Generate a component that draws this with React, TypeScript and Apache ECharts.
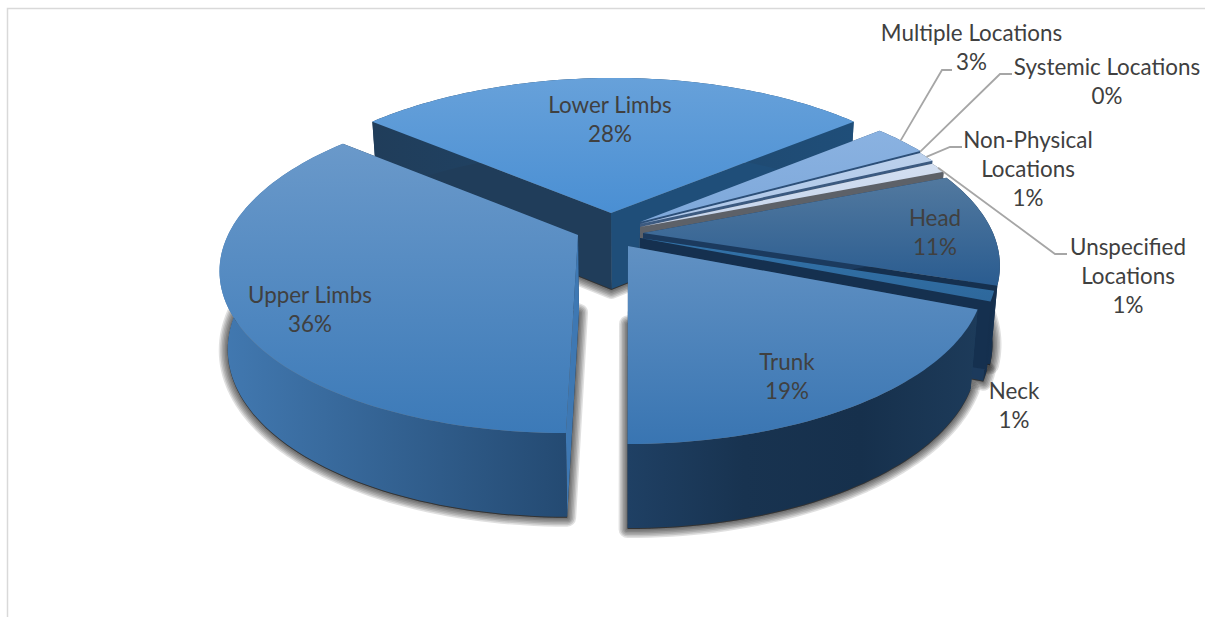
import React, { useEffect, useRef } from "react";
import * as echarts from "echarts";

// Injury locations, clockwise from the start of the first slice.
const categories = [
  "Head",
  "Neck",
  "Trunk",
  "Upper Limbs",
  "Lower Limbs",
  "Multiple Locations",
  "Systemic Locations",
  "Non-Physical\nLocations",
  "Unspecified\nLocations",
];
const percentages = [11, 1, 19, 36, 28, 3, 0, 1, 1];

// Clockwise angle of the first slice, measured from the far side of the disc.
const FIRST_SLICE_ANGLE = 68.4;

// Projection of the tilted disc.
const DISC = { radius: 350, depthRadius: 160.6, perspective: 0.189, vanishX: 630 };
const BOTTOM = { shrink: 0.98, drop: 76, dropGrowth: 0.035, refY: 213 };

// Where each exploded slice's tip lands.
const sliceTips = [
  [643, 233],
  [640, 238],
  [628, 246],
  [578, 235],
  [611, 213],
  [640, 222],
  [640, 222.5],
  [640, 224],
  [640, 227],
];

// Painted far to near.
const paintOrder = [4, 5, 6, 7, 8, 0, 1, 3, 2];

// Top gradient stops, the two radial walls, rim gradient stops.
const sliceStyles = [
  { top: ["#52799f", "#2a5c90"], startWall: "#1b3a5e", endWall: "#15304f", rim: ["#15304f", "#15304f"] },
  { top: ["#3272a8", "#2e689c"], startWall: "#15304f", endWall: "#1c3a5c", rim: ["#15304f", "#142e4c"] },
  { top: ["#6191c3", "#3975b2"], startWall: "#1c3c5e", endWall: "#1c3c5e", rim: ["#1f4064", "#183350", "#16304c", "#1d3b5a"] },
  { top: ["#6a99ca", "#3c7ab8"], startWall: "#3e78b3", endWall: "#1f3d5c", rim: ["#4279b1", "#244a72"] },
  { top: ["#67a1da", "#4a8fd3"], startWall: "#203d5a", endWall: "#1f4e79", rim: ["#203d5a", "#1f4e79"] },
  { top: ["#8ab2e1", "#7ea8da"], startWall: "#2c4f78", endWall: "#1f3b5f", rim: ["#2c4f78", "#2c4f78"] },
  { top: ["#7ea8da", "#7ea8da"], startWall: "#2c4f78", endWall: "#2c4f78", rim: ["#2c4f78", "#2c4f78"] },
  { top: ["#bcd1ec", "#adc6e8"], startWall: "#3c5a80", endWall: "#3c5a80", rim: ["#3c5a80", "#3c5a80"] },
  { top: ["#d3dff1", "#c6d5ec"], startWall: "#5d6168", endWall: "#5d6168", rim: ["#5d6168", "#5d6168"] },
];

// Label centres and, for the outside labels, the leader's elbow and end.
const labelCentres = [
  [935, 232],
  [1014, 405],
  [787, 376],
  [310, 309],
  [610, 119],
  [971.5, 47],
  [1107, 81],
  [1028, 168.5],
  [1128, 275],
];
const leaderPaths: (number[][] | null)[] = [
  null,
  null,
  null,
  null,
  null,
  [[942, 70], [952, 70]],
  [[1000, 74], [1012, 74]],
  [[950, 147], [962, 147]],
  [[1055, 254], [1067, 254]],
];

// Widening translucent outlines that build the soft shadow under the disc.
const shadowWidths = [18, 15, 12, 9, 6, 3];

const FONT = "Lato, 'Open Sans', sans-serif";

const total = percentages.reduce((a, b) => a + b, 0);
const sliceAngles = (() => {
  let from = FIRST_SLICE_ANGLE;
  return percentages.map((p) => {
    const to = from + (p / total) * 360;
    const span = [from, to];
    from = to;
    return span;
  });
})();

function projectRim(i: number, theta: number): number[] {
  const [tipX, tipY] = sliceTips[i];
  const rad = (theta * Math.PI) / 180;
  const u = Math.sin(rad);
  const v = -Math.cos(rad);
  const w = 1 - DISC.perspective * v;
  const off = tipX - DISC.vanishX;
  return [tipX + (DISC.radius * u + off) / w - off, tipY + (DISC.depthRadius * v) / w];
}

function dropToBottom(p: number[]): number[] {
  return [
    DISC.vanishX + (p[0] - DISC.vanishX) * BOTTOM.shrink,
    p[1] + BOTTOM.drop + BOTTOM.dropGrowth * (p[1] - BOTTOM.refY),
  ];
}

function rimArc(i: number): number[][] {
  const [from, to] = sliceAngles[i];
  const steps = Math.max(1, Math.ceil((to - from) / 1.5));
  const pts: number[][] = [];
  for (let s = 0; s <= steps; s++) pts.push(projectRim(i, from + ((to - from) * s) / steps));
  return pts;
}

const gradient = (x2: number, y2: number, stops: string[]) =>
  new echarts.graphic.LinearGradient(
    0,
    0,
    x2,
    y2,
    stops.map((color, k) => ({ offset: k / (stops.length - 1), color }))
  );

const poly = (points: number[][], style: any) => ({ type: "polygon", shape: { points }, style, silent: true });

function renderShadow(_p: any, api: any) {
  const i = api.value(0);
  if (api.value(1) === 0) return { type: "group", children: [] };
  const floor = [sliceTips[i], ...rimArc(i)].map(dropToBottom).map((p) => [p[0], p[1] + 1]);
  return {
    type: "group",
    children: shadowWidths.map((lineWidth) =>
      poly(floor, {
        fill: "rgba(0,0,0,0.12)",
        stroke: "rgba(0,0,0,0.12)",
        lineWidth,
        lineJoin: "round",
      })
    ),
  };
}

function renderSlice(_p: any, api: any) {
  const i = api.value(0);
  if (api.value(1) === 0) return { type: "group", children: [] };
  const tip = sliceTips[i];
  const arc = rimArc(i);
  const arcBottom = arc.map(dropToBottom);
  const tipBottom = dropToBottom(tip);
  const s = sliceStyles[i];
  const first = arc[0];
  const last = arc[arc.length - 1];
  return {
    type: "group",
    children: [
      poly([tip, last, arcBottom[arcBottom.length - 1], tipBottom], { fill: s.endWall }),
      poly([tip, first, arcBottom[0], tipBottom], { fill: s.startWall }),
      poly([...arc, ...[...arcBottom].reverse()], { fill: gradient(1, 0, s.rim) }),
      poly([tip, ...arc], { fill: gradient(0, 1, s.top) }),
    ],
  };
}

function renderLabel(_p: any, api: any) {
  const i = api.value(0);
  const [from, to] = sliceAngles[i];
  const children: any[] = [];
  const path = leaderPaths[i];
  if (path) {
    children.push({
      type: "polyline",
      silent: true,
      shape: { points: [projectRim(i, (from + to) / 2), ...path] },
      style: { fill: "none", stroke: "#a6a6a6", lineWidth: 1.8 },
    });
  }
  children.push({
    type: "text",
    silent: true,
    style: {
      x: labelCentres[i][0],
      y: labelCentres[i][1],
      text: `${categories[i]}\n${api.value(1)}%`,
      align: "center",
      verticalAlign: "middle",
      fontFamily: FONT,
      fontSize: 22.4,
      lineHeight: 29,
      fill: "#404040",
    },
  });
  return { type: "group", children };
}

export default function App() {
  const ref = useRef<HTMLDivElement>(null);
  useEffect(() => {
    const chart = echarts.init(ref.current!, undefined, { renderer: "svg" });
    const painted = paintOrder.map((i) => [i, percentages[i]]);
    chart.setOption({
      animation: false,
      backgroundColor: "#ffffff",
      graphic: [
        {
          type: "polyline",
          silent: true,
          shape: { points: [[7.5, 617], [7.5, 8.5], [1205, 8.5]] },
          style: { fill: "none", stroke: "#d9d9d9", lineWidth: 1.5 },
        },
      ],
      series: [
        { type: "custom", coordinateSystem: "none", z: 1, renderItem: renderShadow, data: painted, silent: true },
        { type: "custom", coordinateSystem: "none", z: 2, renderItem: renderSlice, data: painted, silent: true },
        { type: "custom", coordinateSystem: "none", z: 3, renderItem: renderLabel, data: painted, silent: true },
      ],
    });
    return () => chart.dispose();
  }, []);
  return (
    <div
      ref={ref}
      style={{ position: "absolute", left: 0, top: 0, width: 1205, height: 617 }}
    />
  );
}
